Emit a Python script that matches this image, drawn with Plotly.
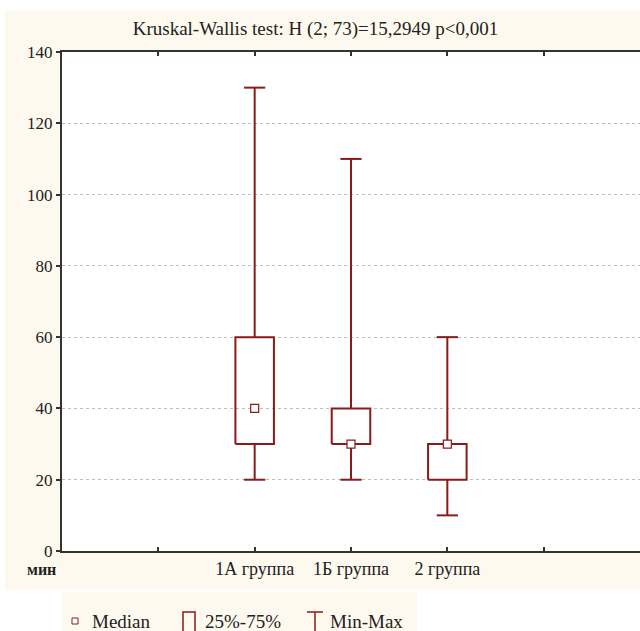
import plotly.graph_objects as go

# ---- data ----
categories = ["1А группа", "1Б группа", "2 группа"]
mins = [20, 20, 10]
q1s = [30, 30, 20]
medians = [40, 30, 30]
q3s = [60, 40, 30]
maxs = [130, 110, 60]
title_text = "Kruskal-Wallis test: H (2; 73)=15,2949 p<0,001"
y_ticks = [0, 20, 40, 60, 80, 100, 120, 140]

COL = "#8B1A1A"
FONT = "Liberation Serif, Times New Roman, Times, DejaVu Serif, serif"
BOX_HW = 0.2
CAP_HW = 0.11
xs = [i + 1 for i in range(len(categories))]

fig = go.Figure()

# boxes (25%-75%)
bx, by = [], []
for x, a, b in zip(xs, q1s, q3s):
    bx += [x - BOX_HW, x + BOX_HW, x + BOX_HW, x - BOX_HW, x - BOX_HW, None]
    by += [a, a, b, b, a, None]
fig.add_trace(go.Scatter(x=bx, y=by, mode="lines", line=dict(color=COL, width=2),
                         showlegend=False, hoverinfo="skip"))

# whiskers (Min-Max)
wx, wy = [], []
for x, lo, a, b, hi in zip(xs, mins, q1s, q3s, maxs):
    wx += [x, x, None, x, x, None, x - CAP_HW, x + CAP_HW, None, x - CAP_HW, x + CAP_HW, None]
    wy += [lo, a, None, b, hi, None, lo, lo, None, hi, hi, None]
fig.add_trace(go.Scatter(x=wx, y=wy, mode="lines", line=dict(color=COL, width=2),
                         showlegend=False, hoverinfo="skip"))

# medians
fig.add_trace(go.Scatter(x=xs, y=medians, mode="markers",
                         marker=dict(symbol="square", size=8, color="white",
                                     line=dict(color=COL, width=1.2)),
                         showlegend=False))

# ---- layout geometry ----
W_FIG, H_FIG = 640, 631
L, T, R, B = 62, 52, 0, 80
PW, PH = W_FIG - L - R, H_FIG - T - B


def px(x):
    return (x - L) / PW


def py(y):
    return 1 - (y - T) / PH


shapes = [
    dict(type="rect", xref="paper", yref="paper", x0=px(5), x1=px(645), y0=py(590), y1=py(10),
         fillcolor="#FDF9EE", line=dict(width=0), layer="below"),
    dict(type="rect", xref="paper", yref="paper", x0=0, x1=1, y0=0, y1=1,
         fillcolor="white", line=dict(width=0), layer="below"),
    dict(type="rect", xref="paper", yref="paper", x0=px(62), x1=px(417), y0=py(636), y1=py(592),
         fillcolor="#FDF9EE", line=dict(width=0), layer="below"),
    dict(type="rect", xref="paper", yref="paper", x0=px(183), x1=px(195), y0=py(640), y1=py(612),
         fillcolor="rgba(0,0,0,0)", line=dict(color=COL, width=1.5)),
    dict(type="line", xref="paper", yref="paper", x0=px(315), x1=px(315), y0=py(640), y1=py(612),
         line=dict(color=COL, width=1.5)),
    dict(type="line", xref="paper", yref="paper", x0=px(307), x1=px(323), y0=py(612), y1=py(612),
         line=dict(color=COL, width=1.5)),
    dict(type="rect", xref="paper", yref="paper", x0=px(72), x1=px(78), y0=py(624), y1=py(618),
         fillcolor="white", line=dict(color=COL, width=1)),
]

annotations = [
    dict(text="<b>мин</b>", xref="paper", yref="paper", x=px(41), y=py(569), showarrow=False,
         xanchor="center", yanchor="middle", font=dict(family=FONT, size=16, color="#222")),
    dict(text="Median", xref="paper", yref="paper", x=px(90), y=py(621), showarrow=False,
         xanchor="left", yanchor="middle", font=dict(family=FONT, size=19, color="#222")),
    dict(text="25%-75%", xref="paper", yref="paper", x=px(203), y=py(621), showarrow=False,
         xanchor="left", yanchor="middle", font=dict(family=FONT, size=19, color="#222")),
    dict(text="Min-Max", xref="paper", yref="paper", x=px(328), y=py(621), showarrow=False,
         xanchor="left", yanchor="middle", font=dict(family=FONT, size=19, color="#222")),
]

fig.update_layout(
    width=W_FIG, height=H_FIG,
    margin=dict(l=L, r=R, t=T, b=B, pad=0),
    paper_bgcolor="white", plot_bgcolor="white",
    showlegend=False,
    title=dict(text=title_text, xref="container", yref="container",
               x=315.5 / W_FIG, y=1 - 28 / H_FIG, xanchor="center", yanchor="middle",
               font=dict(family=FONT, size=19, color="#222")),
    shapes=shapes, annotations=annotations,
    font=dict(family=FONT, color="#222"),
)

fig.update_xaxes(range=[-1, 5], tickvals=[0, 1, 2, 3, 4],
                 ticktext=[""] + categories + [""],
                 ticks="inside", ticklen=4, tickwidth=1.5, tickcolor="#333",
                 showline=True, linecolor="#333", linewidth=2, mirror="ticks",
                 showgrid=False, zeroline=False,
                 tickfont=dict(family=FONT, size=18, color="#222"))
fig.update_yaxes(range=[0, 140], tickvals=y_ticks,
                 ticks="outside", ticklen=4, tickwidth=1.5, tickcolor="#333",
                 showline=True, linecolor="#333", linewidth=2,
                 showgrid=True, gridcolor="#BDBDBD", griddash="dot", gridwidth=1,
                 zeroline=False,
                 tickfont=dict(family=FONT, size=17, color="#222"))

fig.write_html("out.html", config={"displayModeBar": False},
               post_script="document.body.style.margin='0';document.body.style.overflow='hidden';")
